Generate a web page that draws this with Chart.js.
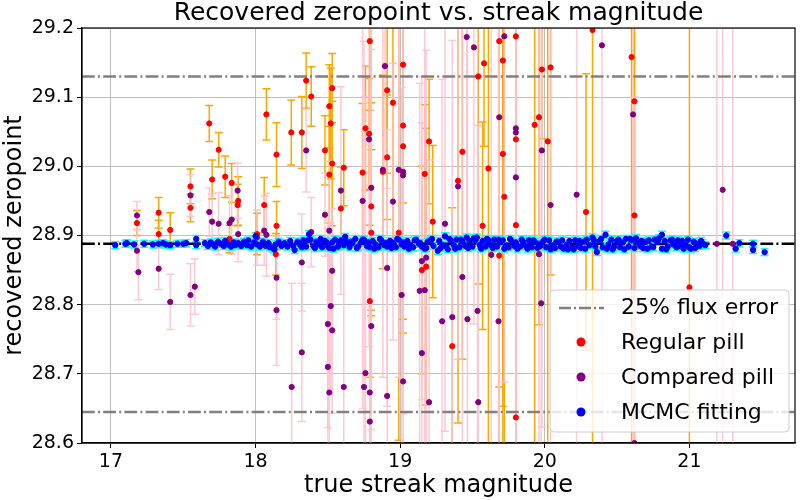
<!DOCTYPE html>
<html>
<head>
<meta charset="utf-8">
<script src="https://cdn.jsdelivr.net/npm/chart.js@4/dist/chart.umd.min.js"></script>
<style>
  html, body { margin: 0; padding: 0; background: #fff; }
  #zp { display: block; }
</style>
</head>
<body>
<canvas id="zp" width="800" height="500"></canvas>
<script>
// axis ticks
const xTicks = [17, 18, 19, 20, 21];
const yTicks = [28.6, 28.7, 28.8, 28.9, 29.0, 29.1, 29.2];

// reference lines
const fluxErrHigh = 29.13;
const fluxErrLow = 28.645;
const trueZeropoint = 28.888;

// Regular pill (red, orange error bars)
const regularMag = [17.18, 17.33, 17.33, 17.41, 17.55, 17.55, 17.68, 17.70, 17.745, 17.79, 17.835, 17.876, 17.88, 17.82, 18.01,
  18.075, 18.145, 18.06, 18.145, 18.14, 18.247, 18.32, 18.35, 18.385, 18.53, 18.51, 18.52, 18.53, 18.48, 18.51,
  18.61, 18.59, 18.79, 19.02, 18.91, 18.95, 18.76, 18.785, 19.02, 19.02, 18.91, 18.74, 18.88, 18.80, 18.80,
  18.99, 19.20, 19.17, 19.225, 19.43, 19.40, 19.54, 19.58, 19.61, 19.57, 19.685, 19.71, 19.71, 19.72, 19.80,
  19.80, 19.80, 19.93, 19.96, 20.02, 19.98, 20.04, 18.79, 19.15, 19.18, 19.36, 19.685, 19.80, 20.33, 20.60,
  20.62, 20.285, 20.62, 21.00];
const regularZp = [28.918, 28.933, 28.902, 28.908, 28.971, 28.940, 29.062, 28.981, 29.024, 28.985, 28.976, 28.944, 28.950, 28.895, 28.902,
  29.075, 29.017, 28.944, 28.914, 28.873, 29.049, 29.049, 29.124, 29.101, 29.113, 29.087, 29.062, 29.004, 29.023, 28.988,
  28.998, 28.939, 29.181, 29.147, 29.110, 29.092, 29.055, 29.047, 29.059, 29.029, 29.013, 28.991, 28.992, 28.942, 28.904,
  28.904, 29.036, 28.989, 28.920, 29.021, 28.979, 29.130, 29.149, 28.997, 28.914, 29.181, 29.153, 29.018, 28.956, 29.188,
  29.039, 28.915, 29.060, 29.071, 29.036, 29.140, 29.143, 28.805, 28.850, 28.855, 28.740, 28.871, 28.637, 29.197, 29.158,
  29.094, 28.934, 28.929, 28.825];
const regularErr = [0.018, 0.022, 0.02, 0.025, 0.025, 0.02, 0.026, 0.028, 0.025, 0.03, 0.028, 0.03, 0.035, 0.02, 0.03,
  0.037, 0.046, 0.04, 0.035, 0.03, 0.047, 0.052, 0.04, 0.043, 0.05, 0.06, 0.08, 0.09, 0.05, 0.07,
  0.055, 0.06, 0.1, 0.2, 0.12, 0.2, 0.09, 0.08, 0.3, 0.25, 0.09, 0.1, 0.14, 0.15, 0.12,
  0.3, 0.09, 0.1, 0.11, 0.3, 0.35, 0.3, 0.12, 0.5, 0.15, 0.5, 0.5, 0.5, 0.5, 0.6,
  0.6, 0.6, 0.6, 0.3, 0.7, 0.1, 0.3, 0.11, 0.15, 0.2, 0.2, 0.4, 0.6, 0.8, 0.8,
  0.8, 0.2, 0.8, 0.5];

// Compared pill (purple, pink error bars)
const comparedMag = [17.18, 17.18, 17.19, 17.33, 17.41, 17.55, 17.55, 17.58, 17.68, 17.70, 17.745, 17.835, 17.82, 17.876, 17.88,
  18.01, 18.06, 18.075, 18.145, 18.145, 18.25, 18.32, 18.32, 18.35, 18.385, 18.48, 18.51, 18.59, 18.53, 18.52,
  18.50, 18.53, 18.50, 18.51, 18.61, 18.895, 18.785, 18.80, 18.74, 18.88, 18.95, 18.99, 19.02, 19.02, 19.31,
  19.40, 19.46, 19.51, 19.72, 19.685, 19.80, 19.80, 19.80, 19.98, 20.04, 18.91, 19.15, 19.18, 19.135, 19.17,
  19.01, 19.43, 18.80, 19.29, 19.36, 19.465, 19.535, 19.68, 19.15, 18.76, 18.75, 18.79, 18.91, 19.02, 19.20,
  19.54, 18.79, 19.63, 19.96, 19.975, 20.395, 20.61, 20.22, 21.23, 21.19, 21.30, 20.62];
const comparedZp = [28.929, 28.878, 28.847, 28.852, 28.804, 28.958, 28.814, 28.826, 28.934, 28.920, 28.917, 28.923, 28.918, 28.965, 28.902,
  28.897, 28.907, 28.901, 28.839, 28.792, 28.681, 28.861, 28.731, 29.023, 28.905, 28.930, 28.907, 28.965, 28.849, 28.798,
  28.772, 28.763, 28.710, 28.673, 28.681, 29.145, 29.039, 28.969, 28.950, 28.995, 28.949, 28.995, 28.992, 28.987, 28.917,
  28.971, 29.187, 29.172, 29.188, 29.071, 29.055, 29.049, 28.984, 29.023, 28.944, 28.853, 28.863, 28.868, 28.820, 28.821,
  28.814, 28.840, 28.769, 28.776, 28.782, 28.779, 28.791, 28.776, 28.730, 28.701, 28.681, 28.673, 28.668, 28.689, 28.659,
  28.659, 28.631, 28.872, 28.873, 28.802, 29.175, 29.075, 28.959, 28.966, 28.888, 28.888, 28.600];
const comparedErr = [0.02, 0.03, 0.04, 0.03, 0.04, 0.03, 0.045, 0.04, 0.035, 0.04, 0.045, 0.05, 0.04, 0.04, 0.04,
  0.04, 0.05, 0.06, 0.06, 0.08, 0.15, 0.07, 0.1, 0.06, 0.05, 0.06, 0.1, 0.15, 0.09, 0.12,
  0.15, 0.12, 0.2, 0.2, 0.2, 0.15, 0.3, 0.35, 0.3, 0.3, 0.2, 0.3, 0.35, 0.3, 0.3,
  0.25, 0.3, 0.4, 0.5, 0.5, 0.5, 0.5, 0.6, 0.4, 0.6, 0.2, 0.2, 0.3, 0.3, 0.4,
  0.3, 0.4, 0.4, 0.35, 0.4, 0.5, 0.5, 0.5, 0.4, 0.4, 0.5, 0.3, 0.3, 0.3, 0.35,
  0.4, 0.4, 0.5, 0.6, 0.5, 0.8, 0.8, 0.5, 0.4, 0.6, 0.8, 0.5];

// MCMC fitting (blue, cyan error bars)
const mcmcMag = [17.03, 17.10, 17.11, 17.16, 17.23, 17.29, 17.33, 17.36, 17.38, 17.41, 17.46, 17.50, 17.52, 17.59, 17.59,
  17.65, 17.67, 17.69, 17.71, 17.72, 17.74, 17.76, 17.78, 17.79, 17.81, 17.83, 17.85, 17.86, 17.88, 17.90,
  17.92, 17.94, 17.95, 17.97, 17.99, 18.00, 18.01, 18.03, 18.05, 18.07, 18.09, 18.10, 18.12, 18.13, 18.14,
  18.16, 18.18, 18.20, 18.22, 18.24, 18.26, 18.27, 18.29, 18.31, 18.33, 18.35, 18.37, 18.38, 18.40, 18.42,
  18.44, 18.46, 18.48, 18.50, 18.51, 18.53, 18.55, 18.57, 18.59, 18.61, 18.63, 18.65, 18.67, 18.69, 18.71,
  18.73, 18.75, 18.77, 18.79, 18.81, 18.83, 18.85, 18.87, 18.89, 18.91, 18.93, 18.95, 18.97, 18.99, 19.01,
  19.03, 19.05, 19.07, 19.09, 19.11, 19.13, 19.15, 19.17, 19.19, 19.21, 19.23, 19.26, 19.27, 19.29, 19.31,
  19.32, 19.33, 19.35, 19.37, 19.39, 19.41, 19.43, 19.45, 19.46, 19.48, 19.50, 19.52, 19.53, 19.55, 19.57,
  19.59, 19.61, 19.63, 19.65, 19.67, 19.69, 19.71, 19.73, 19.75, 19.77, 19.79, 19.81, 19.83, 19.85, 19.87,
  19.89, 19.91, 19.93, 19.95, 19.97, 19.99, 20.01, 20.03, 20.05, 20.07, 20.09, 20.11, 20.13, 20.15, 20.17,
  20.19, 20.21, 20.23, 20.25, 20.27, 20.29, 20.31, 20.33, 20.35, 20.36, 20.38, 20.40, 20.42, 20.44, 20.46,
  20.48, 20.50, 20.52, 20.54, 20.56, 20.58, 20.60, 20.62, 20.64, 20.66, 20.68, 20.70, 20.72, 20.74, 20.76,
  20.79, 20.81, 20.81, 20.83, 20.85, 20.87, 20.89, 20.91, 20.93, 20.95, 20.97, 20.99, 21.01, 21.03, 21.05,
  21.07, 21.09, 21.11, 21.255, 21.32, 21.345, 21.44, 21.44, 21.52,
  18.32, 18.36, 18.41, 18.45, 18.49, 18.54, 18.58, 18.62, 18.66, 18.70, 18.74, 18.78, 18.82, 18.86, 18.90,
  18.94, 18.98, 19.02, 19.06, 19.10, 19.14, 19.18, 19.22, 19.28, 19.34, 19.38, 19.42, 19.47, 19.51, 19.56,
  19.60, 19.64, 19.68, 19.72, 19.76, 19.80, 19.84, 19.88, 19.92, 19.96, 20.00, 20.04, 20.08, 20.12, 20.16,
  20.20, 20.24, 20.28, 20.34, 20.39, 20.43, 20.47, 20.51, 20.55, 20.59, 20.63, 20.67, 20.71, 20.75, 20.78,
  20.84, 20.88, 20.92, 20.96, 21.00, 21.04, 21.08];
const mcmcZp = [28.886, 28.888, 28.889, 28.887, 28.888, 28.887, 28.888, 28.889, 28.887, 28.886, 28.888, 28.888, 28.889, 28.895, 28.886,
  28.889, 28.885, 28.890, 28.887, 28.884, 28.891, 28.888, 28.885, 28.892, 28.887, 28.884, 28.890, 28.886, 28.889, 28.885,
  28.891, 28.886, 28.893, 28.884, 28.890, 28.899, 28.887, 28.884, 28.891, 28.885, 28.889, 28.883, 28.882, 28.880, 28.887,
  28.891, 28.885, 28.889, 28.884, 28.892, 28.885, 28.879, 28.891, 28.886, 28.893, 28.884, 28.902, 28.894, 28.885, 28.891,
  28.887, 28.883, 28.892, 28.885, 28.882, 28.890, 28.894, 28.884, 28.893, 28.886, 28.891, 28.883, 28.889, 28.895, 28.884,
  28.890, 28.894, 28.885, 28.883, 28.892, 28.887, 28.883, 28.893, 28.886, 28.884, 28.892, 28.889, 28.883, 28.894, 28.887,
  28.884, 28.892, 28.886, 28.883, 28.894, 28.888, 28.884, 28.881, 28.891, 28.893, 28.885, 28.878, 28.892, 28.886, 28.899,
  28.884, 28.880, 28.893, 28.886, 28.894, 28.883, 28.891, 28.885, 28.897, 28.892, 28.884, 28.893, 28.897, 28.886, 28.892,
  28.884, 28.893, 28.886, 28.894, 28.884, 28.890, 28.893, 28.885, 28.883, 28.892, 28.885, 28.881, 28.884, 28.891, 28.885,
  28.893, 28.883, 28.891, 28.882, 28.885, 28.892, 28.883, 28.893, 28.885, 28.882, 28.891, 28.884, 28.881, 28.886, 28.892,
  28.883, 28.893, 28.885, 28.882, 28.891, 28.894, 28.886, 28.897, 28.884, 28.876, 28.892, 28.883, 28.901, 28.887, 28.894,
  28.884, 28.892, 28.883, 28.890, 28.895, 28.884, 28.893, 28.882, 28.890, 28.885, 28.882, 28.891, 28.893, 28.884, 28.894,
  28.896, 28.901, 28.881, 28.892, 28.884, 28.893, 28.887, 28.883, 28.885, 28.892, 28.886, 28.894, 28.881, 28.891, 28.888,
  28.885, 28.889, 28.886, 28.900, 28.881, 28.889, 28.879, 28.888, 28.876,
  28.883, 28.893, 28.882, 28.895, 28.890, 28.881, 28.889, 28.898, 28.891, 28.882, 28.894, 28.890, 28.881, 28.895, 28.889,
  28.882, 28.895, 28.890, 28.881, 28.893, 28.889, 28.882, 28.895, 28.882, 28.895, 28.881, 28.894, 28.882, 28.896, 28.881,
  28.895, 28.882, 28.894, 28.881, 28.895, 28.890, 28.894, 28.881, 28.893, 28.888, 28.894, 28.880, 28.891, 28.893, 28.880,
  28.880, 28.892, 28.881, 28.893, 28.895, 28.881, 28.880, 28.894, 28.880, 28.895, 28.896, 28.892, 28.881, 28.883, 28.891,
  28.880, 28.894, 28.893, 28.881, 28.883, 28.882, 28.892];
const mcmcErr = 0.005;

const xMin = 16.8, xMax = 21.73;
const FONT = "'DejaVu Sans', sans-serif";

function points(xs, ys) {
  return xs.map((v, i) => ({ x: v, y: ys[i] }));
}

function hline(yv) {
  return [{ x: xMin, y: yv }, { x: xMax, y: yv }];
}

// all error bars go under all the markers
const errorBars = {
  id: 'errorBars',
  beforeDatasetsDraw(chart) {
    const { ctx, chartArea, scales } = chart;
    const sets = chart.data.datasets.filter(d => d.errors !== undefined)
      .sort((a, b) => b.order - a.order);
    ctx.save();
    ctx.beginPath();
    ctx.rect(chartArea.left, chartArea.top, chartArea.width, chartArea.height);
    ctx.clip();
    ctx.lineWidth = 1.5;
    sets.forEach(ds => {
      ctx.strokeStyle = ds.errorColor;
      const cap = ds.capSize;
      ds.data.forEach((p, i) => {
        const e = Array.isArray(ds.errors) ? ds.errors[i] : ds.errors;
        const px = scales.x.getPixelForValue(p.x);
        const top = scales.y.getPixelForValue(p.y + e);
        const bot = scales.y.getPixelForValue(p.y - e);
        ctx.beginPath();
        ctx.moveTo(px, top); ctx.lineTo(px, bot);
        ctx.moveTo(px - cap, top); ctx.lineTo(px + cap, top);
        ctx.moveTo(px - cap, bot); ctx.lineTo(px + cap, bot);
        ctx.stroke();
      });
    });
    ctx.restore();
  }
};

// title, top/right spines and the legend box
const decorations = {
  id: 'decorations',
  afterDatasetsDraw(chart) {
    const { ctx } = chart;
    ctx.save();
    // legend
    const lx = 550, ly = 290, lw = 239, lh = 142;
    ctx.beginPath();
    ctx.roundRect(lx, ly, lw, lh, 4);
    ctx.fillStyle = 'rgba(255,255,255,0.8)';
    ctx.fill();
    ctx.strokeStyle = '#cccccc';
    ctx.lineWidth = 1;
    ctx.stroke();
    ctx.font = '22px ' + FONT;
    ctx.textBaseline = 'middle';
    const rows = [
      { label: '25% flux error', y: 307 },
      { label: 'Regular pill', y: 342, color: 'red' },
      { label: 'Compared pill', y: 377, color: 'purple' },
      { label: 'MCMC fitting', y: 412, color: 'blue' }
    ];
    rows.forEach(r => {
      if (r.color) {
        ctx.beginPath();
        ctx.arc(581, r.y, 4.5, 0, Math.PI * 2);
        ctx.fillStyle = r.color;
        ctx.fill();
      } else {
        ctx.beginPath();
        ctx.setLineDash([12, 3, 2, 3]);
        ctx.strokeStyle = 'gray';
        ctx.lineWidth = 2.5;
        ctx.moveTo(559, r.y + 1);
        ctx.lineTo(604, r.y + 1);
        ctx.stroke();
        ctx.setLineDash([]);
      }
      ctx.fillStyle = '#000';
      ctx.fillText(r.label, 621, r.y + 1);
    });
    ctx.restore();
  },
  afterDraw(chart) {
    const { ctx, chartArea: a } = chart;
    ctx.save();
    ctx.strokeStyle = '#000';
    ctx.lineWidth = 1.2;
    ctx.strokeRect(a.left, a.top, a.right - a.left, a.bottom - a.top);
    ctx.font = '25px ' + FONT;
    ctx.fillStyle = '#000';
    ctx.textAlign = 'center';
    ctx.textBaseline = 'alphabetic';
    ctx.fillText('Recovered zeropoint vs. streak magnitude', (a.left + a.right) / 2, 20);
    ctx.restore();
  }
};

const lineStyle = (yv, color, width) => ({
  type: 'line',
  data: hline(yv),
  borderColor: color,
  borderWidth: width,
  borderDash: [12.8, 3.2, 2, 3.2],
  pointRadius: 0,
  fill: false,
  order: 3
});

const dotStyle = (color, radius) => ({
  backgroundColor: color,
  borderColor: color,
  pointBackgroundColor: color,
  pointBorderColor: color,
  pointBorderWidth: 1,
  pointRadius: radius
});

new Chart(document.getElementById('zp'), {
  type: 'scatter',
  data: {
    datasets: [
      Object.assign({
        label: 'MCMC fitting',
        data: points(mcmcMag, mcmcZp),
        errors: mcmcErr,
        errorColor: 'cyan',
        capSize: 4,
        order: 0
      }, dotStyle('blue', 2.7)),
      Object.assign({
        label: 'Compared pill',
        data: points(comparedMag, comparedZp),
        errors: comparedErr,
        errorColor: 'rgba(255,192,203,0.85)',
        capSize: 4,
        order: 1
      }, dotStyle('purple', 2.6)),
      Object.assign({
        label: 'Regular pill',
        data: points(regularMag, regularZp),
        errors: regularErr,
        errorColor: 'orange',
        capSize: 4,
        order: 2
      }, dotStyle('red', 2.6)),
      lineStyle(fluxErrHigh, 'gray', 2.5),
      lineStyle(fluxErrLow, 'gray', 2.5),
      lineStyle(trueZeropoint, 'black', 2.5)
    ]
  },
  options: {
    responsive: false,
    animation: false,
    devicePixelRatio: 1,
    events: [],
    layout: { padding: { top: 28, right: 2, left: 0, bottom: 0 } },
    plugins: {
      legend: { display: false },
      tooltip: { enabled: false },
      title: { display: false }
    },
    scales: {
      x: {
        type: 'linear',
        min: xMin,
        max: xMax,
        afterBuildTicks: s => { s.ticks = xTicks.map(v => ({ value: v })); },
        afterFit: s => { s.height = 57; },
        ticks: { color: '#000', font: { family: FONT, size: 19 }, padding: 3, maxRotation: 0,
          callback: v => String(v) },
        grid: { color: '#b0b0b0', lineWidth: 0.8, tickColor: '#000', tickLength: 5, tickWidth: 1 },
        border: { color: '#000', width: 1.2 },
        title: { display: true, text: 'true streak magnitude', color: '#000',
          font: { family: FONT, size: 24 }, padding: { top: 0, bottom: 0 } }
      },
      y: {
        type: 'linear',
        min: 28.6,
        max: 29.2,
        afterBuildTicks: s => { s.ticks = yTicks.map(v => ({ value: v })); },
        afterFit: s => { s.width = 82; },
        ticks: { color: '#000', font: { family: FONT, size: 19 }, padding: 3,
          callback: v => v.toFixed(1) },
        grid: { color: '#b0b0b0', lineWidth: 0.8, tickColor: '#000', tickLength: 5, tickWidth: 1 },
        border: { color: '#000', width: 1.2 },
        title: { display: true, text: 'recovered zeropoint', color: '#000',
          font: { family: FONT, size: 24 }, padding: { top: 0, bottom: 0 } }
      }
    }
  },
  plugins: [errorBars, decorations]
});
</script>
</body>
</html>
